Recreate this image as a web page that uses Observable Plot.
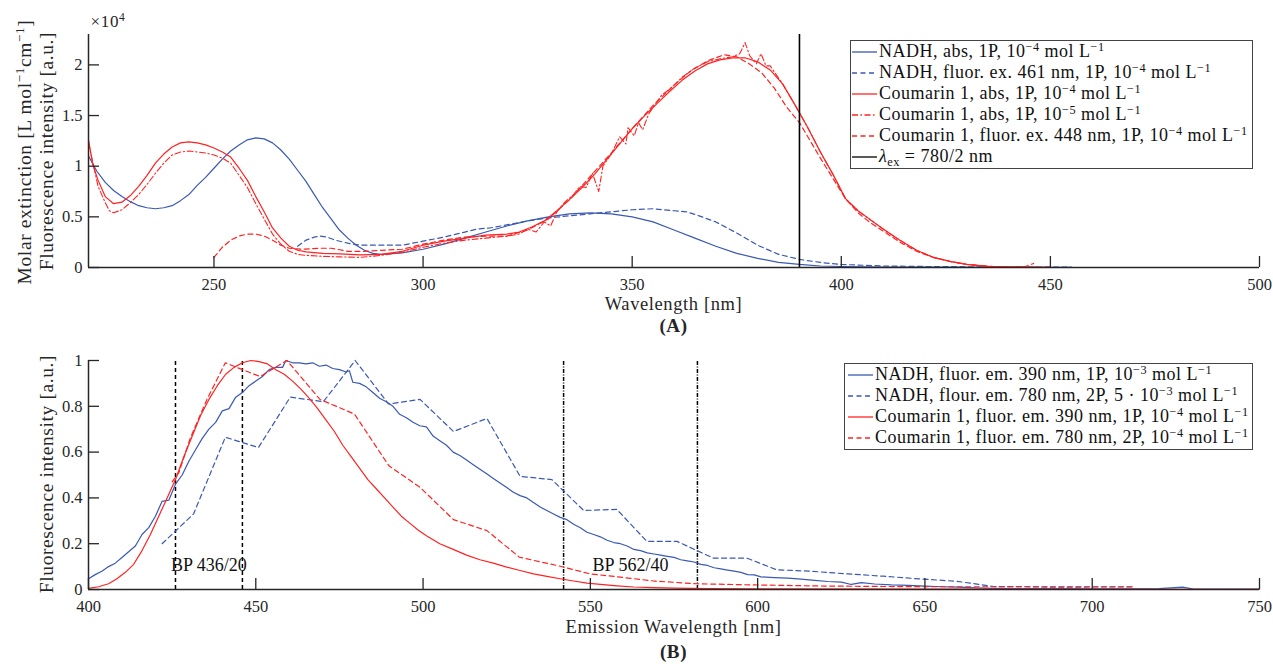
<!DOCTYPE html>
<html><head><meta charset="utf-8">
<script src="https://cdn.jsdelivr.net/npm/d3@7"></script>
<script src="https://cdn.jsdelivr.net/npm/@observablehq/plot@0.6"></script>
<style>
body{margin:0;background:#fff;}
#wrap{position:relative;width:1273px;height:664px;font-family:'Liberation Serif',serif;color:#262626;overflow:hidden;}
.abs{position:absolute;white-space:nowrap;letter-spacing:0.6px;}
.c{transform:translate(-50%,-50%);}
.rot{transform:translate(-50%,-50%) rotate(-90deg);}
.legend{position:absolute;background:#fff;border:1px solid #444;box-sizing:border-box;font-size:18px;letter-spacing:0.5px;color:#111;}
.row{height:21px;display:flex;align-items:center;white-space:nowrap;}
sup{font-size:0.68em;vertical-align:0.5em;line-height:0;}
sub{font-size:0.68em;vertical-align:-0.3em;line-height:0;}
svg.plot{position:absolute;left:0;}
</style></head><body><div id="wrap"></div>
<script>
// ---------- Panel A data (wavelength nm, value ×10^4) ----------
const nadhAbs = [[220,1.10],[222,0.95],[224,0.84],[226,0.76],[228,0.70],[230,0.65],[232,0.61],[234,0.59],[236,0.58],[238,0.59],[240,0.61],[242,0.66],[244,0.72],[246,0.81],[248,0.89],[250,0.98],[252,1.07],[254,1.15],[256,1.21],[258,1.26],[260,1.28],[262,1.27],[264,1.23],[266,1.16],[268,1.07],[270,0.96],[272,0.85],[274,0.72],[276,0.59],[278,0.48],[280,0.37],[282,0.29],[284,0.22],[286,0.17],[288,0.14],[290,0.13],[295,0.145],[300,0.18],[305,0.23],[310,0.29],[315,0.35],[320,0.41],[325,0.46],[330,0.50],[335,0.53],[340,0.54],[345,0.53],[350,0.50],[355,0.45],[360,0.37],[365,0.29],[370,0.21],[375,0.14],[380,0.09],[385,0.05],[390,0.03],[395,0.015],[400,0.01],[410,0.005],[420,0.003],[440,0.002],[455,0.002]];
const nadhFluorA = [[270,0.21],[272,0.27],[274,0.30],[275.5,0.31],[277,0.30],[279,0.27],[282,0.24],[285,0.22],[290,0.22],[295,0.22],[300,0.26],[305,0.30],[310,0.35],[313,0.38],[316,0.39],[320,0.42],[325,0.46],[330,0.49],[335,0.51],[340,0.53],[345,0.55],[350,0.57],[355,0.58],[360,0.56],[363,0.55],[366,0.51],[370,0.45],[375,0.34],[380,0.22],[385,0.13],[390,0.08],[395,0.05],[400,0.03],[410,0.015],[420,0.01],[440,0.005],[455,0.004]];
const coumAbs4 = [[220,1.26],[221,1.02],[222.3,0.86],[224,0.70],[226,0.63],[228,0.645],[230,0.71],[232,0.80],[234,0.91],[236,1.03],[238,1.12],[240,1.19],[242,1.23],[244,1.24],[246,1.23],[248,1.21],[250,1.18],[252,1.14],[254,1.09],[256,0.98],[258,0.86],[260,0.70],[262,0.55],[264,0.39],[266,0.29],[268,0.21],[270,0.17],[272,0.155],[276,0.14],[280,0.135],[285,0.125],[290,0.13],[295,0.16],[300,0.22],[305,0.26],[310,0.29],[315,0.32],[320,0.33],[323,0.35],[326,0.40],[329,0.46],[332,0.56],[335,0.67],[338,0.79],[341,0.92],[344,1.07],[347,1.22],[350,1.37],[353,1.50],[356,1.62],[359,1.74],[362,1.85],[365,1.94],[368,2.01],[371,2.05],[374,2.07],[377,2.07],[380,2.03],[383,1.95],[386,1.81],[389,1.60],[392,1.38],[395,1.14],[398,0.92],[401,0.68],[404,0.56],[407,0.47],[410,0.38],[414,0.27],[418,0.17],[422,0.10],[426,0.06],[430,0.03],[435,0.012],[440,0.005],[450,0.002]];
const coumAbs5 = [[220,1.23],[222.3,0.80],[224,0.64],[225,0.56],[226,0.54],[228,0.57],[230,0.64],[232,0.72],[234,0.82],[236,0.93],[238,1.03],[240,1.11],[242,1.14],[244,1.15],[246,1.14],[248,1.13],[250,1.11],[252,1.08],[254,1.03],[256,0.91],[258,0.79],[260,0.63],[262,0.48],[264,0.33],[266,0.23],[268,0.16],[270,0.13],[272,0.12],[276,0.11],[280,0.105],[285,0.10],[290,0.12],[295,0.15],[300,0.20],[305,0.24],[310,0.27],[315,0.29],[320,0.31],[323,0.33],[325,0.38],[327,0.35],[329,0.45],[330.5,0.41],[332,0.55],[334,0.65],[336,0.72],[337.5,0.80],[339,0.79],[340.5,0.93],[342,0.75],[343,1.00],[345,1.12],[347,1.29],[348.5,1.22],[349,1.38],[350.5,1.30],[351.5,1.43],[352.5,1.36],[354,1.52],[357,1.70],[359,1.76],[362,1.88],[365,1.97],[368,2.03],[371,2.06],[374,2.08],[375.7,2.11],[377,2.22],[378.1,2.09],[379.7,2.01],[380.8,2.11],[382,1.99],[383,1.99],[384,1.93],[386,1.81],[389,1.60],[392,1.38],[395,1.14],[398,0.92],[401,0.68],[404,0.56],[407,0.47],[410,0.38],[414,0.27],[418,0.17],[422,0.10],[426,0.06],[430,0.03],[435,0.012],[440,0.005],[450,0.002]];
const coumFluorA = [[250,0.10],[252,0.20],[254,0.27],[256,0.31],[258,0.33],[260,0.33],[262,0.31],[264,0.27],[266,0.22],[268,0.19],[271,0.18],[275,0.19],[278,0.19],[282,0.16],[286,0.16],[290,0.17],[295,0.18],[300,0.23],[305,0.27],[310,0.30],[315,0.31],[320,0.31],[325,0.37],[330,0.48],[335,0.67],[340,0.90],[345,1.13],[350,1.37],[355,1.60],[360,1.80],[364,1.94],[368,2.04],[372,2.10],[375,2.08],[378,2.01],[381,1.92],[384,1.77],[387,1.58],[390,1.43],[393,1.22],[395,1.08],[398,0.88],[401,0.68],[404,0.54],[407,0.44],[410,0.36],[414,0.25],[418,0.16],[422,0.10],[426,0.06],[430,0.03],[435,0.012],[440,0.006],[444,0.01],[446,0.04]];
const excitation = [390];

// ---------- Panel B data (emission nm, normalized intensity) ----------
const nadh1P = [[400,0.047],[402,0.065],[404,0.08],[406,0.10],[408,0.115],[410,0.14],[412,0.165],[414,0.19],[416,0.24],[418,0.27],[420,0.32],[422,0.385],[424,0.39],[426,0.46],[428,0.50],[430,0.56],[432,0.61],[434,0.66],[436,0.70],[438,0.73],[440,0.78],[442,0.79],[444,0.84],[446,0.86],[448,0.89],[450,0.91],[452,0.93],[454,0.96],[456,0.97],[458,0.97],[459,1.0],[461,0.99],[463,0.99],[465,0.985],[467,0.99],[469,0.975],[471,0.98],[473,0.965],[475,0.96],[477,0.95],[478,0.955],[479,0.905],[481,0.90],[483,0.885],[485,0.86],[487,0.835],[489,0.82],[491,0.80],[493,0.765],[495,0.75],[497,0.73],[499,0.715],[501,0.71],[503,0.67],[505,0.65],[507,0.63],[509,0.60],[511,0.585],[513,0.565],[515,0.545],[517,0.525],[519,0.505],[521,0.485],[523,0.465],[525,0.445],[527,0.425],[529,0.41],[531,0.40],[533,0.38],[535,0.36],[537,0.345],[539,0.33],[541,0.315],[543,0.305],[545,0.285],[547,0.27],[549,0.25],[551,0.24],[553,0.23],[555,0.215],[557,0.205],[559,0.20],[561,0.19],[563,0.175],[565,0.17],[567,0.16],[569,0.155],[571,0.15],[573,0.145],[575,0.14],[577,0.13],[579,0.125],[581,0.12],[583,0.11],[585,0.105],[587,0.095],[589,0.09],[591,0.085],[593,0.08],[595,0.075],[597,0.065],[599,0.064],[601,0.055],[605,0.052],[609,0.05],[613,0.045],[617,0.04],[621,0.035],[625,0.032],[628,0.022],[631,0.03],[635,0.024],[640,0.02],[645,0.018],[650,0.015],[655,0.012],[660,0.01],[665,0.007],[670,0.005],[680,0.004],[690,0.004],[700,0.003],[720,0.004],[727,0.01],[730,0.003],[750,0.002]];
const nadh2P = [[422,0.20],[431.4,0.33],[440.9,0.665],[450.8,0.62],[460.3,0.84],[470.2,0.82],[479.7,1.0],[489.7,0.81],[499.1,0.83],[509.1,0.69],[519.1,0.747],[529,0.494],[538.5,0.48],[548,0.345],[557.9,0.35],[566.9,0.21],[575.9,0.21],[586.8,0.137],[596.8,0.137],[605.7,0.086],[615.7,0.08],[627,0.068],[637.6,0.058],[649.6,0.045],[659.5,0.036],[670.5,0.013],[680,0.012],[690,0.01],[700,0.011],[712,0.011]];
const coum1P = [[400,0.005],[403,0.012],[406,0.025],[408.5,0.047],[411,0.075],[413.5,0.11],[416,0.17],[418.5,0.24],[421,0.32],[423.5,0.40],[426,0.48],[428.5,0.58],[431,0.67],[433.5,0.76],[436,0.83],[438.5,0.89],[441,0.94],[443.5,0.97],[446,0.99],[448.5,1.0],[451,0.995],[453.5,0.985],[456,0.96],[458.5,0.94],[461,0.91],[463.5,0.875],[466,0.835],[468.5,0.79],[471,0.74],[473.5,0.69],[476,0.63],[478.5,0.58],[481,0.53],[483.5,0.48],[486,0.44],[488.5,0.40],[491,0.36],[493.5,0.32],[496,0.29],[498.5,0.26],[501,0.235],[505,0.20],[509,0.175],[513,0.15],[517,0.13],[521,0.115],[525,0.098],[529,0.083],[533,0.068],[537,0.057],[541,0.047],[545,0.037],[549,0.028],[553,0.022],[558,0.016],[563,0.011],[569,0.008],[575,0.006],[585,0.004],[600,0.003],[650,0.002],[750,0.001]];
const coum2P = [[425,0.47],[427,0.51],[430.4,0.66],[435.4,0.83],[440.9,0.99],[446,0.96],[451.3,0.93],[459.3,1.0],[469.2,0.83],[479.5,0.766],[489.8,0.54],[499.1,0.446],[509.1,0.305],[519.1,0.257],[528.8,0.141],[540,0.105],[550,0.068],[559,0.054],[569,0.037],[581.8,0.025],[599,0.02],[620,0.015],[650,0.012],[680,0.012],[712,0.012]];
const bp436 = [426, 446];
const bp562 = [542, 582];
const bpLabels = [{x: 436, y: 0.105, t: "BP 436/20"}, {x: 562, y: 0.105, t: "BP 562/40"}];

// ---------- tick labels ----------
const xTicksA = [250, 300, 350, 400, 450, 500];
const yTicksA = [0, 0.5, 1, 1.5, 2];
const xTicksB = [400, 450, 500, 550, 600, 650, 700, 750];
const yTicksB = [0, 0.2, 0.4, 0.6, 0.8, 1];

const BLUE = "#3a59b3", RED = "#ff2222", AX = "#262626";
const DASH = "5,3.5", DASHDOT = "6,2.5,1.5,2.5";
const X = d => d[0], Y = d => d[1];
const FONT = "'Liberation Serif', serif";

function axes(xt, yt, x0) {
  return [
    Plot.axisX({ticks: xt, tickSize: -11, tickPadding: 22, tickFormat: d => String(d), label: null, fontSize: 16.5, stroke: AX, strokeWidth: 1.3}),
    Plot.axisY({ticks: yt, tickSize: -11, tickPadding: 17, tickFormat: d => String(d), label: null, fontSize: 16.5, stroke: AX, strokeWidth: 1.3}),
    Plot.ruleY([0], {stroke: AX, strokeWidth: 1.5}),
    Plot.ruleX([x0], {stroke: AX, strokeWidth: 1.5})
  ];
}

const plotA = Plot.plot({
  width: 1273, height: 330,
  marginLeft: 88, marginRight: 14, marginTop: 34, marginBottom: 63,
  style: {fontFamily: FONT, fontSize: "16px", color: AX, background: "transparent"},
  x: {domain: [220, 500]},
  y: {domain: [0, 2.3]},
  marks: [
    Plot.line(nadhAbs, {x: X, y: Y, stroke: BLUE, strokeWidth: 1.2}),
    Plot.line(nadhFluorA, {x: X, y: Y, stroke: BLUE, strokeWidth: 1.2, strokeDasharray: DASH}),
    Plot.line(coumAbs5, {x: X, y: Y, stroke: RED, strokeWidth: 1.1, strokeDasharray: DASHDOT}),
    Plot.line(coumFluorA, {x: X, y: Y, stroke: RED, strokeWidth: 1.2, strokeDasharray: DASH}),
    Plot.line(coumAbs4, {x: X, y: Y, stroke: RED, strokeWidth: 1.2}),
    Plot.ruleX(excitation, {stroke: "#000", strokeWidth: 1.6}),
    ...axes(xTicksA, yTicksA, 220)
  ]
});

const plotB = Plot.plot({
  width: 1273, height: 334,
  marginLeft: 88, marginRight: 14, marginTop: 30, marginBottom: 75,
  style: {fontFamily: FONT, fontSize: "16px", color: AX, background: "transparent"},
  x: {domain: [400, 750]},
  y: {domain: [0, 1]},
  marks: [
    Plot.ruleX(bp436, {y1: 0, y2: 1, stroke: "#000", strokeWidth: 1.5, strokeDasharray: "4,3"}),
    Plot.ruleX(bp562, {y1: 0, y2: 1, stroke: "#000", strokeWidth: 1.5, strokeDasharray: "4,1.5,1,1.5"}),
    Plot.line(nadh1P, {x: X, y: Y, stroke: BLUE, strokeWidth: 1.2}),
    Plot.line(nadh2P, {x: X, y: Y, stroke: BLUE, strokeWidth: 1.2, strokeDasharray: DASH}),
    Plot.line(coum1P, {x: X, y: Y, stroke: RED, strokeWidth: 1.2}),
    Plot.line(coum2P, {x: X, y: Y, stroke: RED, strokeWidth: 1.2, strokeDasharray: DASH}),
    Plot.text(bpLabels, {x: "x", y: "y", text: "t", fontSize: 18, fill: "#111", style: "letter-spacing:0.5px"}),
    ...axes(xTicksB, yTicksB, 400)
  ]
});

const wrap = document.getElementById("wrap");
plotA.classList.add("plot"); plotA.style.top = "0px";
plotB.classList.add("plot"); plotB.style.top = "330px";
wrap.appendChild(plotA);
wrap.appendChild(plotB);

function addText(html, x, y, cls, size, extra) {
  const d = document.createElement("div");
  d.className = "abs " + cls;
  d.style.left = x + "px"; d.style.top = y + "px";
  d.style.fontSize = size + "px";
  if (extra) Object.assign(d.style, extra);
  d.innerHTML = html;
  wrap.appendChild(d);
}
addText("×10<sup>4</sup>", 108, 22, "c", 17);
addText("Molar extinction [L mol<sup>−1</sup>cm<sup>−1</sup>]", 25, 152, "rot", 19.5);
addText("Fluorescence intensity [a.u.]", 47, 151, "rot", 19.5);
addText("Wavelength [nm]", 673.5, 304, "c", 18.5);
addText("(A)", 673.5, 326, "c", 19, {fontWeight: "bold"});
addText("Fluorescence intensity [a.u.]", 47, 474, "rot", 19.5);
addText("Emission Wavelength [nm]", 673.5, 627, "c", 18.5);
addText("(B)", 673.5, 652, "c", 19, {fontWeight: "bold"});

const legendA = [
  {stroke: BLUE, dash: null, html: "NADH, abs, 1P, 10<sup>−4</sup> mol L<sup>−1</sup>"},
  {stroke: BLUE, dash: DASH, html: "NADH, fluor. ex. 461 nm, 1P, 10<sup>−4</sup> mol L<sup>−1</sup>"},
  {stroke: RED, dash: null, html: "Coumarin 1, abs, 1P, 10<sup>−4</sup> mol L<sup>−1</sup>"},
  {stroke: RED, dash: DASHDOT, html: "Coumarin 1, abs, 1P, 10<sup>−5</sup> mol L<sup>−1</sup>"},
  {stroke: RED, dash: DASH, html: "Coumarin 1, fluor. ex. 448 nm, 1P, 10<sup>−4</sup> mol L<sup>−1</sup>"},
  {stroke: "#000", dash: null, html: "<i>λ</i><sub>ex</sub> = 780/2 nm"}
];
const legendB = [
  {stroke: BLUE, dash: null, html: "NADH, fluor. em. 390 nm, 1P, 10<sup>−3</sup> mol L<sup>−1</sup>"},
  {stroke: BLUE, dash: DASH, html: "NADH, flour. em. 780 nm, 2P, 5 · 10<sup>−3</sup> mol L<sup>−1</sup>"},
  {stroke: RED, dash: null, html: "Coumarin 1, fluor. em. 390 nm, 1P, 10<sup>−4</sup> mol L<sup>−1</sup>"},
  {stroke: RED, dash: DASH, html: "Coumarin 1, fluor. em. 780 nm, 2P, 10<sup>−4</sup> mol L<sup>−1</sup>"}
];
function legend(items, left, top, width, height, padL) {
  const box = document.createElement("div");
  box.className = "legend";
  Object.assign(box.style, {left: left + "px", top: top + "px", width: width + "px", height: height + "px"});
  for (const it of items) {
    const r = document.createElement("div");
    r.className = "row";
    r.innerHTML = `<svg width="25" height="10" style="margin-left:${padL}px;margin-right:2px;flex:none"><line x1="0" y1="5" x2="25" y2="5" stroke="${it.stroke}" stroke-width="1.3" ${it.dash ? `stroke-dasharray="${it.dash}"` : ""}/></svg><span>${it.html}</span>`;
    box.appendChild(r);
  }
  wrap.appendChild(box);
}
legend(legendA, 850, 40, 403, 129, 1);
legend(legendB, 844, 363, 409, 87, 3);
</script></body></html>
